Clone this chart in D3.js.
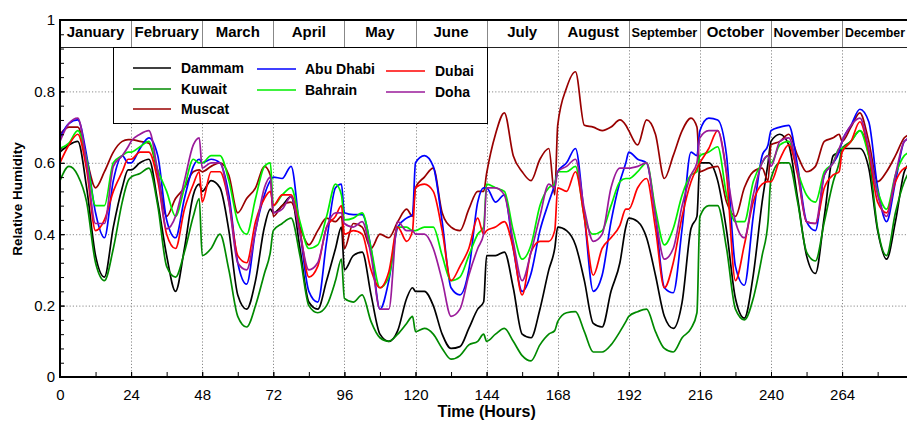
<!DOCTYPE html>
<html>
<head>
<meta charset="utf-8">
<script src="https://cdn.jsdelivr.net/npm/d3@7"></script>
<style>
  body { margin: 0; background: #fff; }
  svg { display: block; font-family: "Liberation Sans", Arial, sans-serif; }
</style>
</head>
<body>
<div id="chart"></div>
<script>
// ---- data (one row of readings per month) ----
const months = ["January", "February", "March", "April", "May", "June",
  "July", "August", "September", "October", "November", "December"];
// hour of the day at which each reading of a month row is taken
const hourOffsets = [0, 3, 6, 9, 12, 15, 18, 21, 23];

const dammam = [
  [0.63, 0.65, 0.66, 0.53, 0.34, 0.28, 0.42, 0.53, 0.58],
  [0.58, 0.60, 0.61, 0.49, 0.34, 0.24, 0.36, 0.51, 0.54],
  [0.52, 0.55, 0.53, 0.41, 0.23, 0.19, 0.27, 0.42, 0.47],
  [0.46, 0.48, 0.505, 0.36, 0.21, 0.19, 0.27, 0.36, 0.42],
  [0.30, 0.34, 0.35, 0.23, 0.12, 0.10, 0.13, 0.22, 0.25],
  [0.24, 0.24, 0.20, 0.12, 0.08, 0.085, 0.136, 0.19, 0.21],
  [0.34, 0.34, 0.35, 0.25, 0.12, 0.11, 0.19, 0.30, 0.36],
  [0.42, 0.41, 0.37, 0.27, 0.15, 0.14, 0.24, 0.32, 0.42],
  [0.445, 0.435, 0.39, 0.285, 0.17, 0.136, 0.21, 0.416, 0.45],
  [0.60, 0.60, 0.55, 0.41, 0.22, 0.165, 0.285, 0.49, 0.60],
  [0.66, 0.68, 0.65, 0.50, 0.34, 0.29, 0.45, 0.62, 0.63],
  [0.64, 0.64, 0.64, 0.585, 0.41, 0.33, 0.435, 0.575, 0.60]
];
const kuwait = [
  [0.55, 0.59, 0.565, 0.49, 0.32, 0.27, 0.36, 0.49, 0.55],
  [0.56, 0.57, 0.585, 0.48, 0.31, 0.28, 0.35, 0.45, 0.50],
  [0.34, 0.36, 0.40, 0.30, 0.17, 0.14, 0.20, 0.29, 0.35],
  [0.41, 0.43, 0.445, 0.34, 0.20, 0.18, 0.20, 0.27, 0.33],
  [0.22, 0.21, 0.23, 0.155, 0.11, 0.10, 0.12, 0.15, 0.17],
  [0.127, 0.136, 0.12, 0.08, 0.05, 0.06, 0.09, 0.10, 0.12],
  [0.10, 0.12, 0.136, 0.10, 0.06, 0.045, 0.09, 0.12, 0.13],
  [0.155, 0.18, 0.183, 0.127, 0.07, 0.07, 0.09, 0.127, 0.155],
  [0.17, 0.183, 0.19, 0.127, 0.08, 0.07, 0.11, 0.136, 0.18],
  [0.45, 0.48, 0.48, 0.36, 0.19, 0.16, 0.22, 0.34, 0.435],
  [0.556, 0.60, 0.60, 0.49, 0.35, 0.325, 0.435, 0.547, 0.60],
  [0.64, 0.66, 0.69, 0.62, 0.416, 0.34, 0.46, 0.547, 0.58]
];
const muscat = [
  [0.68, 0.70, 0.70, 0.61, 0.53, 0.575, 0.63, 0.66, 0.665],
  [0.665, 0.66, 0.655, 0.57, 0.45, 0.50, 0.53, 0.575, 0.58],
  [0.575, 0.59, 0.60, 0.565, 0.46, 0.50, 0.53, 0.59, 0.565],
  [0.45, 0.48, 0.49, 0.42, 0.37, 0.41, 0.445, 0.435, 0.45],
  [0.36, 0.43, 0.42, 0.36, 0.40, 0.39, 0.435, 0.47, 0.45],
  [0.53, 0.56, 0.585, 0.46, 0.42, 0.41, 0.47, 0.52, 0.52],
  [0.57, 0.68, 0.74, 0.62, 0.575, 0.55, 0.61, 0.64, 0.51],
  [0.705, 0.81, 0.855, 0.705, 0.70, 0.69, 0.70, 0.72, 0.705],
  [0.69, 0.65, 0.72, 0.68, 0.556, 0.62, 0.69, 0.725, 0.70],
  [0.575, 0.585, 0.59, 0.49, 0.45, 0.53, 0.575, 0.585, 0.55],
  [0.65, 0.66, 0.68, 0.62, 0.575, 0.59, 0.66, 0.67, 0.68],
  [0.66, 0.70, 0.74, 0.66, 0.547, 0.575, 0.62, 0.67, 0.68]
];
const abuDhabi = [
  [0.67, 0.71, 0.72, 0.62, 0.46, 0.39, 0.55, 0.62, 0.60],
  [0.60, 0.64, 0.67, 0.62, 0.44, 0.39, 0.50, 0.59, 0.61],
  [0.60, 0.61, 0.60, 0.51, 0.32, 0.26, 0.41, 0.51, 0.55],
  [0.56, 0.556, 0.59, 0.41, 0.24, 0.21, 0.38, 0.53, 0.54],
  [0.46, 0.455, 0.455, 0.36, 0.19, 0.27, 0.42, 0.445, 0.455],
  [0.60, 0.62, 0.59, 0.435, 0.25, 0.23, 0.30, 0.49, 0.53],
  [0.53, 0.49, 0.51, 0.36, 0.24, 0.29, 0.41, 0.49, 0.54],
  [0.575, 0.60, 0.64, 0.45, 0.24, 0.285, 0.435, 0.547, 0.60],
  [0.63, 0.61, 0.60, 0.45, 0.25, 0.236, 0.416, 0.63, 0.62],
  [0.69, 0.725, 0.72, 0.62, 0.31, 0.257, 0.45, 0.62, 0.65],
  [0.69, 0.70, 0.705, 0.59, 0.435, 0.41, 0.566, 0.60, 0.63],
  [0.66, 0.705, 0.75, 0.715, 0.53, 0.435, 0.547, 0.66, 0.67]
];
const dubai = [
  [0.60, 0.65, 0.68, 0.58, 0.41, 0.44, 0.52, 0.575, 0.61],
  [0.61, 0.63, 0.63, 0.55, 0.40, 0.36, 0.47, 0.54, 0.575],
  [0.49, 0.575, 0.575, 0.49, 0.34, 0.32, 0.435, 0.50, 0.52],
  [0.48, 0.51, 0.51, 0.41, 0.28, 0.31, 0.42, 0.45, 0.48],
  [0.40, 0.41, 0.40, 0.30, 0.25, 0.295, 0.42, 0.38, 0.41],
  [0.53, 0.54, 0.52, 0.41, 0.27, 0.31, 0.36, 0.445, 0.40],
  [0.41, 0.42, 0.435, 0.36, 0.23, 0.35, 0.38, 0.38, 0.41],
  [0.53, 0.52, 0.575, 0.445, 0.285, 0.36, 0.39, 0.425, 0.47],
  [0.47, 0.53, 0.556, 0.416, 0.25, 0.32, 0.45, 0.547, 0.585],
  [0.60, 0.64, 0.69, 0.566, 0.27, 0.37, 0.49, 0.54, 0.547],
  [0.547, 0.61, 0.65, 0.566, 0.435, 0.43, 0.53, 0.566, 0.575],
  [0.63, 0.66, 0.715, 0.63, 0.49, 0.46, 0.547, 0.585, 0.59]
];
const bahrain = [
  [0.64, 0.655, 0.69, 0.61, 0.48, 0.48, 0.60, 0.62, 0.63],
  [0.63, 0.645, 0.66, 0.58, 0.52, 0.45, 0.53, 0.61, 0.60],
  [0.60, 0.62, 0.62, 0.55, 0.435, 0.40, 0.50, 0.59, 0.60],
  [0.48, 0.51, 0.53, 0.435, 0.36, 0.37, 0.45, 0.54, 0.51],
  [0.44, 0.445, 0.46, 0.36, 0.25, 0.28, 0.42, 0.42, 0.41],
  [0.41, 0.42, 0.42, 0.34, 0.27, 0.28, 0.34, 0.40, 0.42],
  [0.54, 0.53, 0.52, 0.41, 0.33, 0.37, 0.48, 0.53, 0.54],
  [0.575, 0.575, 0.59, 0.45, 0.40, 0.41, 0.48, 0.547, 0.556],
  [0.556, 0.575, 0.60, 0.47, 0.37, 0.416, 0.51, 0.566, 0.575],
  [0.62, 0.63, 0.645, 0.51, 0.435, 0.435, 0.547, 0.60, 0.62],
  [0.60, 0.65, 0.66, 0.575, 0.51, 0.49, 0.575, 0.60, 0.64],
  [0.64, 0.66, 0.69, 0.62, 0.52, 0.47, 0.566, 0.62, 0.63]
];
const doha = [
  [0.66, 0.71, 0.725, 0.60, 0.43, 0.43, 0.59, 0.62, 0.645],
  [0.66, 0.68, 0.69, 0.575, 0.415, 0.45, 0.55, 0.65, 0.67],
  [0.585, 0.60, 0.60, 0.49, 0.32, 0.30, 0.41, 0.53, 0.56],
  [0.46, 0.47, 0.505, 0.40, 0.30, 0.32, 0.42, 0.46, 0.46],
  [0.43, 0.42, 0.435, 0.34, 0.19, 0.19, 0.435, 0.41, 0.41],
  [0.40, 0.40, 0.36, 0.27, 0.17, 0.19, 0.285, 0.36, 0.40],
  [0.53, 0.53, 0.51, 0.38, 0.27, 0.35, 0.45, 0.54, 0.53],
  [0.575, 0.59, 0.61, 0.47, 0.38, 0.40, 0.53, 0.585, 0.585],
  [0.585, 0.59, 0.60, 0.45, 0.33, 0.36, 0.48, 0.566, 0.60],
  [0.67, 0.69, 0.69, 0.575, 0.435, 0.39, 0.51, 0.60, 0.62],
  [0.59, 0.66, 0.67, 0.575, 0.435, 0.43, 0.566, 0.60, 0.64],
  [0.66, 0.705, 0.725, 0.64, 0.51, 0.45, 0.566, 0.66, 0.67]
];

const xTickValues = [0, 24, 48, 72, 96, 120, 144, 168, 192, 216, 240, 264];
const yTickValues = [0, 0.2, 0.4, 0.6, 0.8, 1];

// ---- series set-up (draw order, legend slot, colour) ----
const series = [
  { name: "Dammam", values: dammam, color: "#000000", col: 0, row: 0 },
  { name: "Kuwait", values: kuwait, color: "#008a00", col: 0, row: 1 },
  { name: "Muscat", values: muscat, color: "#990000", col: 0, row: 2 },
  { name: "Abu Dhabi", values: abuDhabi, color: "#0000ff", col: 1, row: 0 },
  { name: "Bahrain", values: bahrain, color: "#00ee00", col: 1, row: 1 },
  { name: "Dubai", values: dubai, color: "#ff0000", col: 2, row: 0 },
  { name: "Doha", values: doha, color: "#9a1a9a", col: 2, row: 1 }
];

const toPoints = (rows) =>
  rows.flatMap((row, m) => row.map((v, k) => ({ h: 24 * m + hourOffsets[k], v })));

// ---- layout ----
const W = 907, H = 422;
const plotLeft = 60, plotTop = 20, plotBottom = 377, headerBottom = 47;

const svg = d3.select("#chart").append("svg")
  .attr("width", W)
  .attr("height", H);

const x = d3.scaleLinear().domain([0, 288]).range([plotLeft, plotLeft + 853.2]);
const y = d3.scaleLinear().domain([0, 1]).range([plotBottom, plotTop]);

svg.append("clipPath").attr("id", "plot-clip")
  .append("rect")
  .attr("x", plotLeft).attr("y", plotTop)
  .attr("width", W - plotLeft).attr("height", plotBottom - plotTop);

// grid
const grid = svg.append("g").attr("stroke", "#8a8a8a").attr("stroke-dasharray", "1.2,2");
grid.selectAll(".hg").data(yTickValues.filter((d) => d > 0 && d < 1)).enter()
  .append("line")
  .attr("x1", plotLeft).attr("x2", W)
  .attr("y1", (d) => y(d) + 0.5).attr("y2", (d) => y(d) + 0.5);
grid.selectAll(".vg").data(xTickValues.filter((d) => d > 0)).enter()
  .append("line")
  .attr("x1", (d) => Math.round(x(d)) + 0.5).attr("x2", (d) => Math.round(x(d)) + 0.5)
  .attr("y1", headerBottom).attr("y2", plotBottom);

// month header band
svg.append("g").attr("stroke", "#888")
  .selectAll("line").data(xTickValues.filter((d) => d > 0)).enter()
  .append("line")
  .attr("x1", (d) => Math.round(x(d)) + 0.5).attr("x2", (d) => Math.round(x(d)) + 0.5)
  .attr("y1", plotTop).attr("y2", headerBottom);
svg.append("line")
  .attr("x1", plotLeft).attr("x2", W)
  .attr("y1", headerBottom + 0.5).attr("y2", headerBottom + 0.5)
  .attr("stroke", "#222");

const monthLabels = svg.append("g")
  .attr("font-weight", "bold")
  .attr("text-anchor", "middle")
  .selectAll("text").data(months).enter()
  .append("text")
  .attr("x", (d, i) => Math.min(x(24 * i + 12), W - 32))
  .attr("y", 37)
  .attr("font-size", 15)
  .text((d) => d);
// shrink the longer names so each stays inside its month cell
monthLabels.each(function () {
  const room = Math.min(66, 2 * (W - 2 - +this.getAttribute("x")));
  const len = this.getComputedTextLength();
  if (len > room) d3.select(this).attr("font-size", (15 * room) / len);
});

// lines
const line = d3.line()
  .x((d) => x(d.h))
  .y((d) => y(d.v))
  .curve(d3.curveMonotoneX);

svg.append("g").attr("clip-path", "url(#plot-clip)")
  .selectAll("path").data(series).enter()
  .append("path")
  .attr("d", (d) => line(toPoints(d.values)))
  .attr("fill", "none")
  .attr("stroke", (d) => d.color)
  .attr("stroke-width", 1.7)
  .attr("stroke-linejoin", "round");

// legend
const legendCols = [{ x1: 133, x2: 171, tx: 181, dy: 0 },
  { x1: 257, x2: 296, tx: 305, dy: 1 },
  { x1: 386, x2: 425, tx: 435, dy: 3 }];
const legendRows = [68, 89, 109];
svg.append("rect")
  .attr("x", 113.5).attr("y", headerBottom + 0.5)
  .attr("width", 374).attr("height", 76)
  .attr("fill", "#fff").attr("stroke", "#000");
const legendItems = svg.append("g").selectAll("g").data(series).enter().append("g")
  .attr("transform", (d) => `translate(0,${legendRows[d.row] + legendCols[d.col].dy})`);
legendItems.append("line")
  .attr("x1", (d) => legendCols[d.col].x1).attr("x2", (d) => legendCols[d.col].x2)
  .attr("stroke", (d) => d.color).attr("stroke-width", 1.7);
legendItems.append("text")
  .attr("x", (d) => legendCols[d.col].tx)
  .attr("y", 5)
  .attr("font-size", 14).attr("font-weight", "bold")
  .text((d) => d.name);

// axes
svg.append("g")
  .attr("transform", `translate(${plotLeft},0)`)
  .call(d3.axisLeft(y).tickValues(d3.range(0, 1.001, 0.04)).tickSize(-4).tickFormat(""))
  .call((g) => g.select(".domain").remove());
svg.append("g")
  .attr("transform", `translate(${plotLeft},0)`)
  .call(d3.axisLeft(y).tickValues(yTickValues).tickSize(-5).tickPadding(5).tickFormat(d3.format("~g")))
  .call((g) => g.select(".domain").remove())
  .call((g) => g.selectAll("text").attr("font-size", 15).attr("fill", "#000"));

svg.append("g")
  .attr("transform", `translate(0,${plotBottom})`)
  .call(d3.axisBottom(x).tickValues(d3.range(0, 288, 12)).tickSize(-5).tickFormat(""))
  .call((g) => g.select(".domain").remove());
svg.append("g")
  .attr("transform", `translate(0,${plotBottom})`)
  .call(d3.axisBottom(x).tickValues(xTickValues).tickSize(-5).tickPadding(12))
  .call((g) => g.select(".domain").remove())
  .call((g) => g.selectAll("text").attr("font-size", 15).attr("fill", "#000"));

// frame
svg.append("path")
  .attr("d", `M${W},${plotTop}H${plotLeft}V${plotBottom}H${W}`)
  .attr("fill", "none").attr("stroke", "#000").attr("stroke-width", 2);

// titles
svg.append("text")
  .attr("x", x(144)).attr("y", 417)
  .attr("text-anchor", "middle")
  .attr("font-size", 16).attr("font-weight", "bold")
  .text("Time (Hours)");
svg.append("text")
  .attr("transform", "translate(22,199) rotate(-90)")
  .attr("text-anchor", "middle")
  .attr("font-size", 13.5).attr("font-weight", "bold")
  .text("Relative Humidity");
</script>
</body>
</html>
